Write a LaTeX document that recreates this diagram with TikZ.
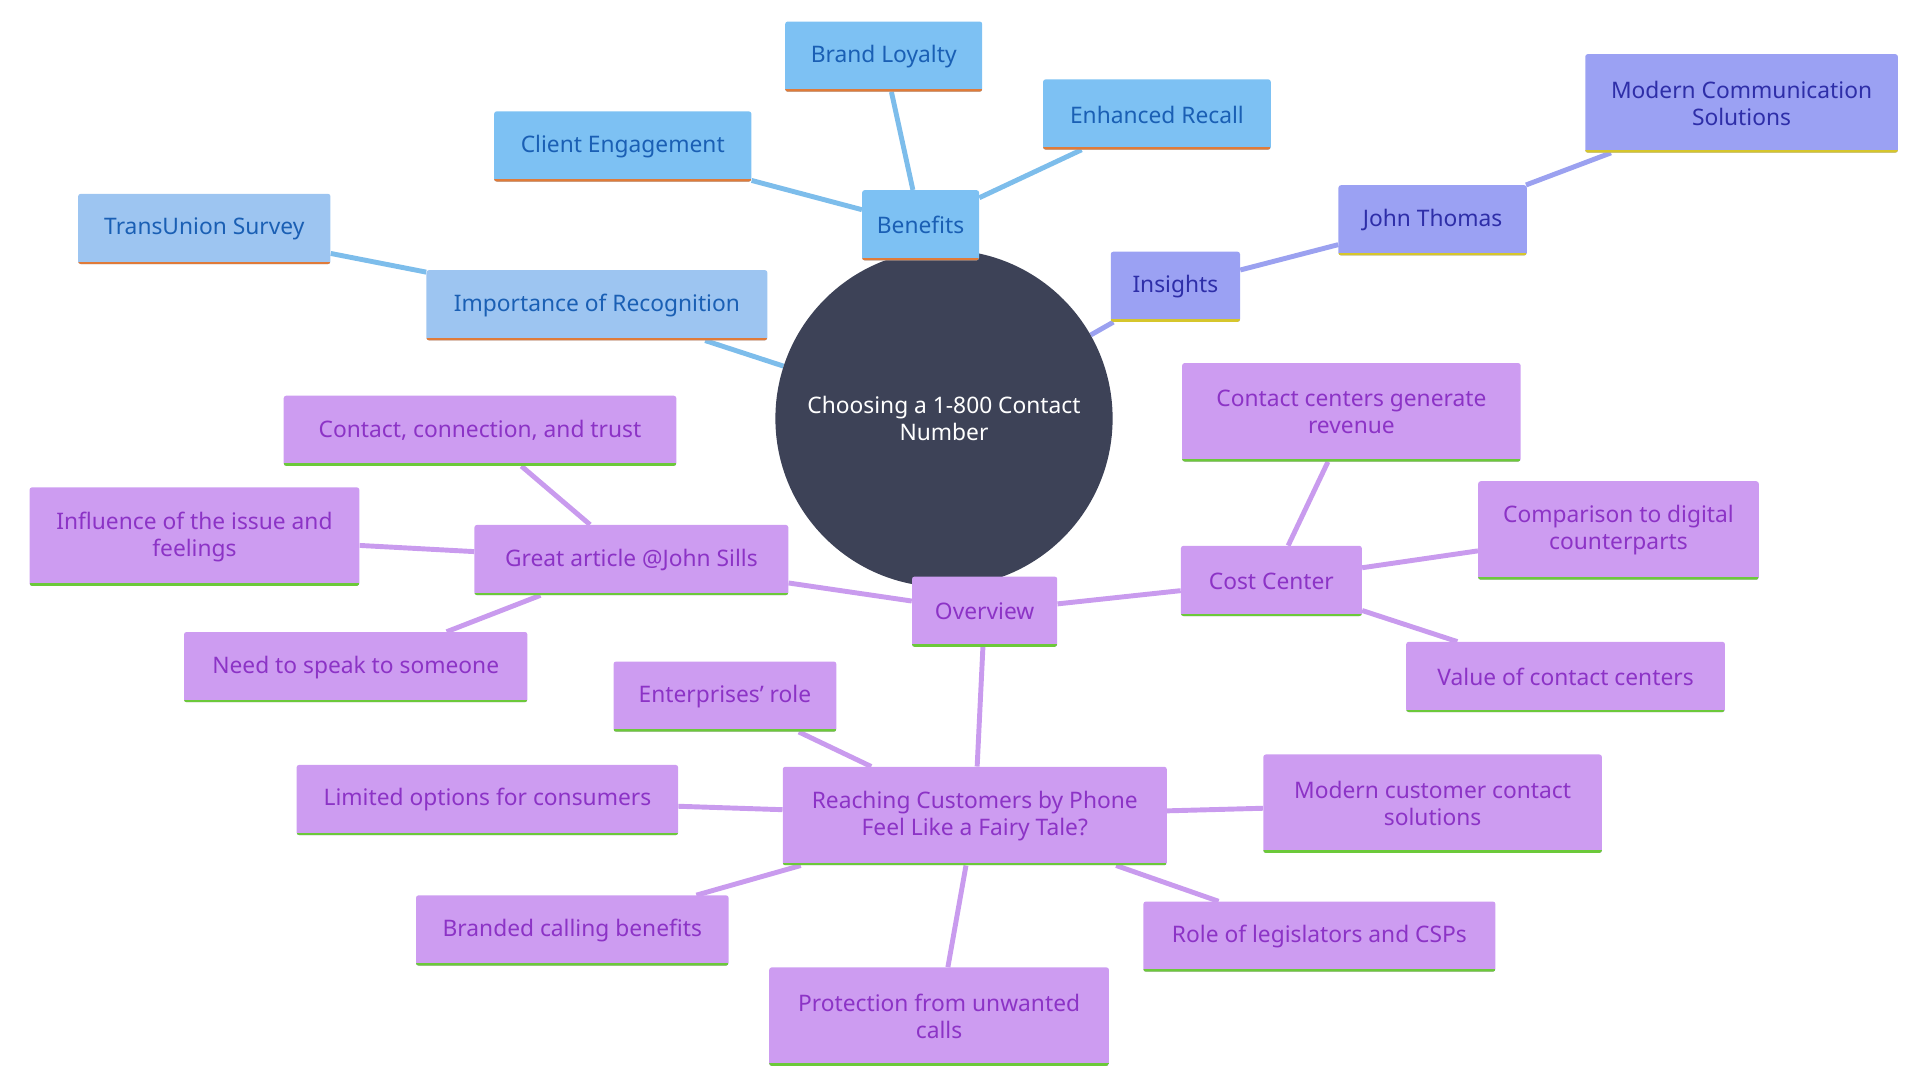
\documentclass[tikz,border=0pt]{standalone}
\usepackage{fontspec}
\setmainfont{Noto Sans}
\usetikzlibrary{backgrounds}
\definecolor{hubfill}{HTML}{3D4257}
\definecolor{bluefill}{HTML}{7DC1F3}
\definecolor{paleblue}{HTML}{9DC5F1}
\definecolor{bluetext}{HTML}{1A5FB4}
\definecolor{violetfill}{HTML}{9BA1F3}
\definecolor{violettext}{HTML}{2E2EA8}
\definecolor{purplefill}{HTML}{CD9CF1}
\definecolor{purpletext}{HTML}{8C33C6}
\definecolor{orangeline}{HTML}{E07B39}
\definecolor{yellowline}{HTML}{D6C62C}
\definecolor{greenline}{HTML}{6CC93A}
\definecolor{bluelink}{HTML}{7DBDEB}
\definecolor{violetlink}{HTML}{9BA1F0}
\definecolor{purplelink}{HTML}{C99BEE}

\tikzset{
  box/.style={rectangle, rounded corners=2pt, inner xsep=12pt, minimum height=57pt,
    align=center, font=\fontsize{18.5}{22}\selectfont,
    path picture={\draw[line width=4pt, #1] (path picture bounding box.south west) -- (path picture bounding box.south east);}},
  blue/.style={box=orangeline, fill=bluefill, text=bluetext},
  pblue/.style={box=orangeline, fill=paleblue, text=bluetext},
  violet/.style={box=yellowline, fill=violetfill, text=violettext},
  purple/.style={box=greenline, fill=purplefill, text=purpletext},
  twoline/.style={minimum height=80pt, inner ysep=6pt},
  link/.style={line width=4pt, #1}
}

\begin{document}
\begin{tikzpicture}[x=1pt, y=-1pt]
  \useasboundingbox (0,0) rectangle (1560,878);
  \node[circle, fill=hubfill, text=white, minimum size=274pt, align=center,
        font=\fontsize{18.5}{22}\selectfont] (hub) at (767,340) {Choosing a 1-800 Contact\\Number};

  % benefits branch
  \node[blue] (benefits) at (748,183) {Benefits};
  \node[blue, minimum width=160pt] (loyalty) at (718,46) {Brand Loyalty};
  \node[blue, minimum width=185pt] (recall) at (940,93) {Enhanced Recall};
  \node[blue, minimum width=209pt] (engage) at (506,119) {Client Engagement};
  \node[pblue, minimum width=277pt] (recog) at (485,248) {Importance of Recognition};
  \node[pblue, minimum width=205pt] (survey) at (166,186) {TransUnion Survey};

  % insights branch
  \node[violet, minimum width=105pt] (insights) at (955,233) {Insights};
  \node[violet, minimum width=153pt] (john) at (1164,179) {John Thomas};
  \node[violet, twoline, minimum width=254pt] (modern) at (1415,84) {Modern Communication\\Solutions};

  % overview branch
  \node[purple, minimum width=118pt] (overview) at (800,497) {Overview};
  \node[purple, minimum width=147pt] (cost) at (1033,472) {Cost Center};
  \node[purple, twoline, minimum width=275pt] (revenue) at (1098,335) {Contact centers generate\\revenue};
  \node[purple, twoline, minimum width=228pt] (digital) at (1315,431) {Comparison to digital\\counterparts};
  \node[purple, minimum width=259pt] (value) at (1272,550) {Value of contact centers};
  \node[purple, minimum width=255pt] (article) at (513,455) {Great article @John Sills};
  \node[purple, minimum width=319pt] (trust) at (390,350) {Contact, connection, and trust};
  \node[purple, twoline, minimum width=268pt] (influence) at (158,436) {Influence of the issue and\\feelings};
  \node[purple, minimum width=279pt] (speak) at (289,542) {Need to speak to someone};
  \node[purple, twoline, minimum width=312pt] (fairy) at (792,663) {Reaching Customers by Phone\\Feel Like a Fairy Tale?};
  \node[purple, minimum width=181pt] (enterprise) at (589,566) {Enterprises' role};
  \node[purple, minimum width=310pt] (limited) at (396,650) {Limited options for consumers};
  \node[purple, twoline, minimum width=275pt] (contactsol) at (1164,653) {Modern customer contact\\solutions};
  \node[purple, minimum width=254pt] (branded) at (465,756) {Branded calling benefits};
  \node[purple, minimum width=286pt] (legis) at (1072,761) {Role of legislators and CSPs};
  \node[purple, twoline, minimum width=276pt] (protect) at (763,826) {Protection from unwanted\\calls};

  \begin{scope}[on background layer]
    \foreach \x in {benefits,recog} {\draw[link=bluelink] (hub) -- (\x);}
    \foreach \x in {loyalty,recall,engage} {\draw[link=bluelink] (benefits) -- (\x);}
    \draw[link=bluelink] (recog) -- (survey);
    \draw[link=violetlink] (hub) -- (insights);
    \draw[link=violetlink] (insights) -- (john);
    \draw[link=violetlink] (john) -- (modern);
    \draw[link=purplelink] (hub) -- (overview);
    \foreach \x in {cost,article,fairy} {\draw[link=purplelink] (overview) -- (\x);}
    \foreach \x in {revenue,digital,value} {\draw[link=purplelink] (cost) -- (\x);}
    \foreach \x in {trust,influence,speak} {\draw[link=purplelink] (article) -- (\x);}
    \foreach \x in {enterprise,limited,contactsol,branded,legis,protect} {\draw[link=purplelink] (fairy) -- (\x);}
  \end{scope}
\end{tikzpicture}
\end{document}
